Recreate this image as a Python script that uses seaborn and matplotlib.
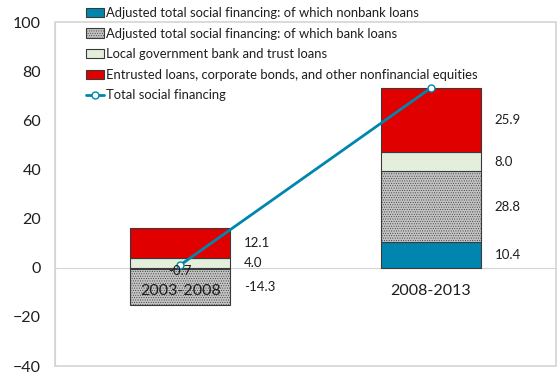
import numpy as np
import matplotlib
matplotlib.use("Agg")
import matplotlib.pyplot as plt
from matplotlib.patches import Patch
from matplotlib.lines import Line2D
import seaborn as sns

# Contributions to social financing growth (percent of GDP)
periods = ["2003-2008", "2008-2013"]
nonbank_loans = [-0.7, 10.4]
bank_loans = [-14.3, 28.8]
local_gov_loans = [4.0, 8.0]
entrusted_other = [12.1, 25.9]

series_labels = [
    "Adjusted total social financing: of which nonbank loans",
    "Adjusted total social financing: of which bank loans",
    "Local government bank and trust loans",
    "Entrusted loans, corporate bonds, and other nonfinancial equities",
]
total_label = "Total social financing"

TEAL = "#0086AE"
RED = "#E00000"
GREEN = "#E3EFDB"
GRAY = "#C3C3C3"
EDGE = "#3A3A3A"
FRAME = "#D4D4D4"
TEXT = "#1E1E1E"

sns.set_style("white")
plt.rcParams["font.family"] = ["Lato", "DejaVu Sans"]
plt.rcParams["hatch.linewidth"] = 0.4
plt.rcParams["hatch.color"] = "#8C8C8C"

fig = plt.figure(figsize=(5.6, 3.79), dpi=100)
ax = fig.add_axes([55 / 560, 1 - 366 / 379, 501 / 560, 344 / 379])

x = np.arange(len(periods))
width = 0.4
series = [nonbank_loans, bank_loans, local_gov_loans, entrusted_other]
styles = [
    dict(color=TEAL, hatch=None),
    dict(color=GRAY, hatch="......."),
    dict(color=GREEN, hatch=None),
    dict(color=RED, hatch=None),
]

pos_base = np.zeros(len(periods))
neg_base = np.zeros(len(periods))
handles = []
for vals, st, lab in zip(series, styles, series_labels):
    vals = np.asarray(vals, dtype=float)
    bottoms = np.where(vals >= 0, pos_base, neg_base)
    ax.bar(x, vals, width=width, bottom=bottoms, color=st["color"],
           hatch=st["hatch"], edgecolor=EDGE, linewidth=0.8, zorder=2)
    for i, (v, b) in enumerate(zip(vals, bottoms)):
        mid = b + v / 2
        if abs(v) < 1:
            ax.text(x[i], mid - 0.9, f"{v:.1f}", ha="center", va="center",
                    fontsize=9.5, color=TEXT, zorder=6)
        else:
            ax.text(x[i] + width / 2 + 0.055, mid, f"{v:.1f}", ha="left",
                    va="center", fontsize=9.5, color=TEXT, zorder=6)
    pos_base = pos_base + np.where(vals >= 0, vals, 0)
    neg_base = neg_base + np.where(vals < 0, vals, 0)
    handles.append(Patch(facecolor=st["color"], edgecolor=EDGE, linewidth=0.8,
                         hatch=st["hatch"], label=lab))

total = [sum(v) for v in zip(*series)]
sns.lineplot(x=x, y=total, ax=ax, color=TEAL, linewidth=2.0, marker="o",
             markersize=5, markerfacecolor="white", markeredgecolor=TEAL,
             markeredgewidth=1.0, zorder=5, legend=False)
handles.append(Line2D([0], [0], color=TEAL, linewidth=2.0, marker="o",
                      markersize=5, markerfacecolor="white",
                      markeredgecolor=TEAL, label=total_label))

ax.set_xlim(-0.5, 1.5)
ax.set_ylim(-40, 100)
ax.set_yticks(np.arange(-40, 101, 20))
ax.tick_params(axis="y", direction="in", length=4, color=FRAME, pad=10,
               labelsize=11.5, labelcolor=TEXT)

# Category axis crosses at zero
ax.spines["bottom"].set_position(("data", 0))
ax.spines["bottom"].set_color(FRAME)
ax.spines["bottom"].set_zorder(1)
ax.spines["left"].set_color(FRAME)
ax.spines["top"].set_visible(False)
ax.spines["right"].set_visible(False)
ax.patch.set_edgecolor(FRAME)
ax.patch.set_linewidth(1.2)

ax.set_xticks(x)
ax.set_xticklabels(periods)
ax.set_xticks([0.5], minor=True)
ax.tick_params(axis="x", which="major", length=0, pad=12, labelsize=11.5,
               labelcolor=TEXT)
ax.tick_params(axis="x", which="minor", direction="in", length=5, color=FRAME)
ax.xaxis.set_zorder(4)
ax.set_xlabel("")
ax.set_ylabel("")

leg = fig.legend(handles=handles, loc="upper left",
                 bbox_to_anchor=(86 / 560, 1 - 7 / 379), frameon=False,
                 fontsize=9.4, handlelength=1.4, handleheight=0.7,
                 handletextpad=0.15, labelspacing=0.66, borderaxespad=0,
                 borderpad=0)
for t in leg.get_texts():
    t.set_color(TEXT)

fig.savefig("out.png", dpi=100)
